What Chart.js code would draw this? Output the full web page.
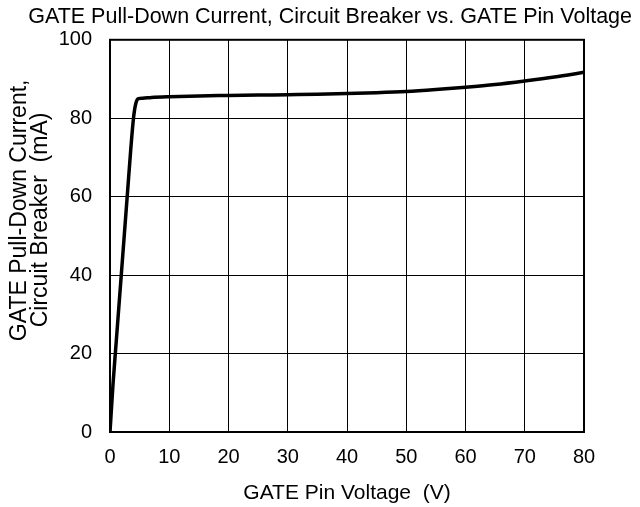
<!DOCTYPE html>
<html>
<head>
<meta charset="utf-8">
<script src="https://cdn.jsdelivr.net/npm/chart.js@4/dist/chart.umd.min.js"></script>
<style>
  html, body { margin: 0; padding: 0; background: #fff; }
  #wrap { width: 640px; height: 507px; }
</style>
</head>
<body>
<div id="wrap"><canvas id="chart" width="640" height="507"></canvas></div>
<script>
// GATE pull-down current vs GATE pin voltage
const voltage = [0, 0.5, 1, 2, 3, 3.5, 4, 4.4, 4.8, 5.5, 7, 10, 15, 20, 25, 30, 35, 40, 45, 50, 55, 60, 65, 70, 75, 80];
const current = [0, 12, 22, 42, 62, 72, 80.5, 84, 85.0, 85.1, 85.3, 85.5, 85.7, 85.8, 85.9, 86.0, 86.1, 86.3, 86.5, 86.8, 87.3, 87.9, 88.6, 89.5, 90.5, 91.7];

const xTicks = [0, 10, 20, 30, 40, 50, 60, 70, 80];
const yTicks = [0, 20, 40, 60, 80, 100];

const FONT = 'Liberation Sans, Arial, sans-serif';

// heavy frame around the plot area
const frame = {
  id: 'frame',
  afterDatasetsDraw(chart) {
    const { ctx, chartArea: a } = chart;
    ctx.save();
    ctx.strokeStyle = '#000';
    ctx.lineWidth = 2;
    ctx.strokeRect(a.left, a.top, a.right - a.left, a.bottom - a.top);
    ctx.restore();
  }
};

new Chart(document.getElementById('chart'), {
  type: 'scatter',
  data: {
    datasets: [{
      data: voltage.map((v, i) => ({ x: v, y: current[i] })),
      showLine: true,
      borderColor: '#000',
      borderWidth: 3.5,
      pointRadius: 0,
      cubicInterpolationMode: 'monotone'
    }]
  },
  options: {
    responsive: false,
    animation: false,
    layout: { padding: { left: 9, right: 8, top: 0, bottom: 1 } },
    plugins: {
      legend: { display: false },
      tooltip: { enabled: false },
      title: {
        display: true,
        text: 'GATE Pull-Down Current, Circuit Breaker vs. GATE Pin Voltage',
        color: '#000',
        font: { family: FONT, size: 21.5, weight: 'normal', lineHeight: 1.2 },
        padding: { top: 4, bottom: 10 },
        align: 'end'
      }
    },
    scales: {
      x: {
        type: 'linear',
        min: 0, max: 80,
        afterBuildTicks: s => { s.ticks = xTicks.map(v => ({ value: v })); },
        afterFit: s => { s.paddingRight = 56; s.height = 74; },
        grid: { color: '#000', lineWidth: 1, drawTicks: false },
        border: { color: '#000', width: 2 },
        ticks: { color: '#000', font: { family: FONT, size: 20, lineHeight: 1.2 }, padding: 13, maxRotation: 0 },
        title: {
          display: true,
          text: 'GATE Pin Voltage  (V)',
          color: '#000',
          font: { family: FONT, size: 21, lineHeight: 1.2 },
          padding: { top: 12, bottom: 0 }
        }
      },
      y: {
        min: 0, max: 100,
        afterBuildTicks: s => { s.ticks = yTicks.map(v => ({ value: v })); },
        afterFit: s => { s.width = 101; },
        grid: { color: '#000', lineWidth: 1, drawTicks: false },
        border: { color: '#000', width: 2 },
        ticks: { color: '#000', font: { family: FONT, size: 20 }, padding: 18 },
        title: {
          display: true,
          // leading spaces lift the rotated lines above the axis centre, as in the original
          text: ['        GATE Pull-Down Current,', '     Circuit Breaker  (mA)'],
          color: '#000',
          font: { family: FONT, size: 23, lineHeight: 0.92 },
          padding: { top: 0, bottom: 7 }
        }
      }
    }
  },
  plugins: [frame]
});
</script>
</body>
</html>
